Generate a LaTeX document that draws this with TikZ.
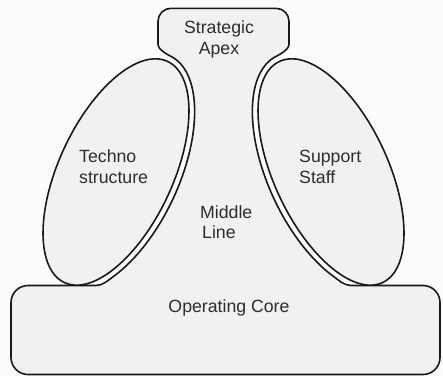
\documentclass[tikz,border=0pt]{standalone}
\usepackage{fontspec}
\setmainfont{Liberation Sans}
\definecolor{bgc}{RGB}{251,251,251}
\definecolor{fillc}{RGB}{241,241,241}
\definecolor{linec}{RGB}{25,25,25}
\definecolor{txtc}{RGB}{45,45,45}
\begin{document}
\begin{tikzpicture}[x=1pt,y=1pt,
  shp/.style={draw=linec, line width=1.6pt, fill=fillc, line join=round},
  lbl/.style={inner sep=0pt, text=txtc, font=\fontsize{17.7}{21}\selectfont}]
\fill[bgc] (0,0) rectangle (443,376);
\useasboundingbox (0,0) rectangle (443,376);
% middle line + apex + operating core outline
\draw[shp] (158,332) .. controls (158,326) and (167.7,321.4) .. (172.1,319.0)
  -- plot[domain=2:138, samples=70, variable=\t]
     ({116+54.09*cos(\t)+57.10*sin(\t)}, {204+116.01*cos(\t)-26.62*sin(\t)})
  .. controls (108.4,95.9) and (103,90.5) .. (96,90.5)
  -- (28,90.5) arc[start angle=90, end angle=180, radius=17]
  -- (11,18.5) arc[start angle=180, end angle=270, radius=17]
  -- (423,1.5) arc[start angle=270, end angle=360, radius=17]
  -- (440,73.5) arc[start angle=0, end angle=90, radius=17]
  -- (351,90.5) .. controls (344,90.5) and (338.6,95.9) .. (333,100)
  -- plot[domain=138:2, samples=70, variable=\t]
     ({331-54.09*cos(\t)-57.10*sin(\t)}, {204+116.01*cos(\t)-26.62*sin(\t)})
  .. controls (279.3,321.4) and (289,326) .. (289,332)
  -- (289,354.7) arc[start angle=0, end angle=90, radius=13]
  -- (171,367.7) arc[start angle=90, end angle=180, radius=13]
  -- cycle;
% technostructure and support staff
\draw[shp, rotate around={-25:(116,204)}] (116,204) ellipse [x radius=57, y radius=122];
\draw[shp, rotate around={25:(331,204)}] (331,204) ellipse [x radius=57, y radius=122];
% labels
\node[lbl, anchor=base] (strat) at (219,342.7) {Strategic};
\node[lbl, anchor=base] (apex) at (219,322) {Apex};
\node[lbl, anchor=base west] (techno) at (79,214) {Techno};
\node[lbl, anchor=base west] (struct) at (79,192.7) {structure};
\node[lbl, anchor=base west] (support) at (299,214) {Support};
\node[lbl, anchor=base west] (staff) at (299,192.7) {Staff};
\node[lbl, anchor=base west] (middle) at (200,158) {Middle};
\node[lbl, anchor=base west] (mline) at (202,137.7) {Line};
\node[lbl, anchor=base] (core) at (229,64) {Operating Core};
\end{tikzpicture}
\end{document}
